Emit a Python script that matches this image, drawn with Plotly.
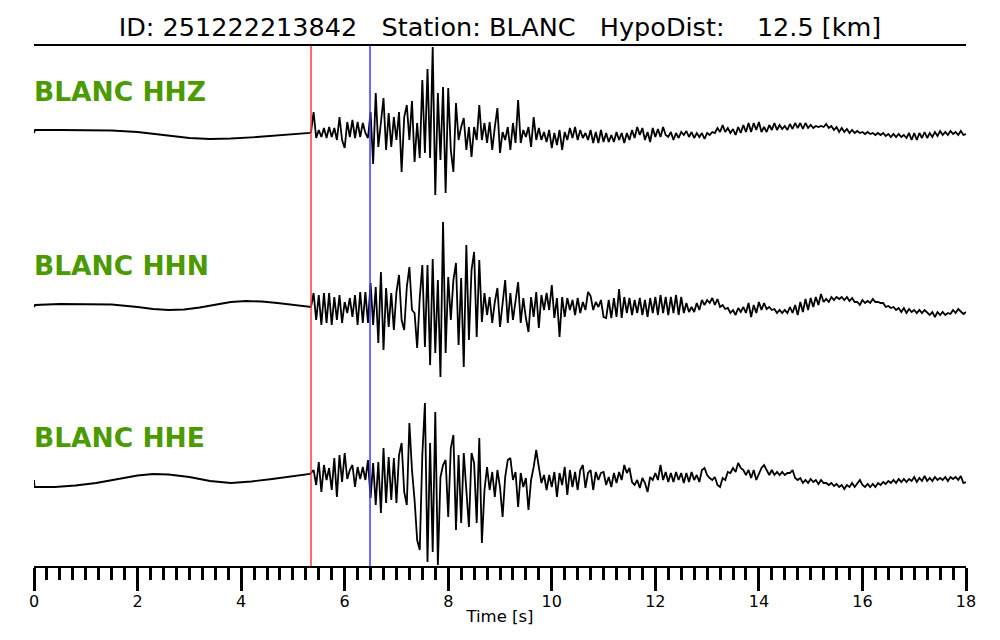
import plotly.graph_objects as go

# ---------------- data ----------------
TITLE_ID = "251222213842"
STATION = "BLANC"
HYPO_DIST_KM = 12.5
CHANNELS = ["HHZ", "HHN", "HHE"]

P_PICK = 5.35   # s (red line)
S_PICK = 6.49   # s (blue line)

X_TICKS = [0, 2, 4, 6, 8, 10, 12, 14, 16, 18]

# pre-event part (vertices), times in s, amplitude in counts (arbitrary units)
HHZ_PRE_T = [0.0, 0.02, 0.5, 1.0, 1.5, 2.0, 2.5, 3.0, 3.4, 3.8, 4.3, 4.8, 5.33]
HHZ_PRE_V = [-1, 2, 2, 2, 1.5, 0, -3, -6, -7, -6.5, -5, -3, -1]
HHN_PRE_T = [0.0, 0.02, 0.5, 1.0, 1.5, 2.0, 2.3, 2.6, 2.9, 3.2, 3.5, 3.8, 4.1, 4.4, 4.7, 5.0, 5.33]
HHN_PRE_V = [-1, 1, 2, 2, 1.5, -1, -3, -4, -3.5, -1.5, 1.5, 4, 5, 4.5, 3, 1, -1]
HHE_PRE_T = [0.0, 0.01, 0.4, 0.8, 1.2, 1.6, 2.0, 2.3, 2.6, 3.0, 3.4, 3.8, 4.2, 4.6, 5.0, 5.33]
HHE_PRE_V = [-2, -9, -9, -7.5, -5, -1.5, 2.5, 4, 3.5, 1, -3, -5, -3.5, -1, 2, 4]

# event part, sampled every EVENT_DT seconds starting at EVENT_T0
EVENT_T0 = 5.35
EVENT_DT = 0.05

HHZ_EV = [
    0, 20, -6, 2, -5, 4, -6, 5, -5, 4,
    -8, 15, -8, -16, 10, -5, 12, -6, 10, -5,
    9, -1, -6, 20, -32, 39, -15, 9, 34, -18,
    19, -15, 15, -8, 20, -40, 15, 27, -8, 31,
    -30, 9, -26, 52, -21, 63, -26, 85, -63, 39,
    -28, 45, -61, 44, -18, -40, 29, -8, 5, 14,
    -18, 5, -25, 5, -8, 27, -8, 9, -11, 10,
    -18, 5, 24, -21, 0, -8, 5, -18, 9, -11,
    32, -11, 2, -5, 5, -15, 15, -8, 4, -8,
    0, -10, 2, -16, -1, -13, 2, -18, 0, -8,
    4, -6, 5, -8, 2, -6, -1, -8, 2, -11,
    0, -11, 2, -10, -1, -10, -3, -10, 0, -8,
    -1, -11, -1, -8, 2, -6, 5, -3, 4, -8,
    0, -10, 4, -5, 3, -5, 5, -3, -5, 0,
    -8, -1, -6, 0, -3, 1, -5, 0, -6, -1,
    -5, -1, -7, -1, -3, 0, -1, 4, 0, 7,
    0, 4, -1, 3, -3, 5, -1, 7, 0, 9,
    0, 9, 2, 10, 0, 5, 0, 7, 2, 9,
    2, 7, 3, 6, 2, 8, 3, 9, 4, 9,
    3, 9, 4, 7, 4, 6, 5, 6, 5, 8,
    4, 6, 2, 5, 0, 4, 0, 3, -1, 2,
    -1, 1, -1, 0, -2, 0, -2, -1, -3, -1,
    -3, -1, -4, -2, -5, -2, -5, -2, -5, -3,
    -6, -1, -8, -1, -8, -1, -6, 0, -6, -1,
    -5, 0, -4, 1, -3, 0, -3, 1, -2, 0,
    -3, 1, -3, -2,
]

HHN_EV = [
    -1, 13, -14, 11, -19, 13, -17, 13, -19, 9,
    -14, 11, -17, 4, -7, 8, -11, 11, -19, 14,
    -17, 14, -17, 23, -19, 19, -37, 34, -44, 18,
    -21, 13, -24, 14, 31, -14, -24, 19, 39, -4,
    -7, -42, 8, 41, -41, 41, -59, 47, -47, 26,
    -71, 84, -47, 29, -14, 26, 43, -39, 28, -61,
    61, -34, 36, 54, -31, 46, -16, 13, -9, 9,
    -17, 4, 18, -21, 6, 26, -17, 13, -14, 6,
    24, -17, 8, -12, -26, 9, -11, 14, -22, 11,
    -4, 13, -4, 21, -12, 8, -31, 9, -11, 8,
    -4, 6, -9, 8, -7, 4, -4, 14, 10, -4,
    4, -1, 6, -11, -12, 6, -12, 8, -11, 17,
    -12, 9, -7, 8, -9, 6, -7, 8, -9, 6,
    -11, 8, -7, 9, -9, 11, -7, 9, -9, 9,
    -7, 11, -9, 9, -7, 3, -6, -1, -6, 3,
    -4, 6, 1, 6, 3, 8, 1, 7, -1, 1,
    -3, -2, -7, -4, -9, -2, -6, -1, -7, 3,
    -11, 1, -7, 4, -4, 3, -3, -1, -4, -3,
    -7, -4, -7, -4, -7, -1, -7, 1, -9, 4,
    -6, 7, -4, 8, -1, 9, 1, 12, 4, 7,
    4, 9, 6, 9, 7, 9, 6, 9, 5, 8,
    4, 4, 1, 6, 3, 5, 3, 7, 4, 4,
    3, 3, -1, 0, -2, -1, -4, -2, -6, -2,
    -7, -3, -6, -4, -7, -4, -7, -4, -7, -9,
    -6, -11, -6, -9, -6, -9, -7, -8, -4, -7,
    -3, -6, -8, -6,
]

HHE_EV = [
    5, 8, -7, 16, -14, 13, -2, 10, -12, 20,
    -19, 23, -4, 25, -1, 8, 13, -9, 11, -1,
    11, -2, 18, -20, 15, -27, 16, -35, 30, -25,
    21, -22, 20, -25, 23, 35, -14, -27, 55, 8,
    -22, -62, -72, 23, 75, -84, 35, -74, 66, -87,
    1, 13, 18, -39, 30, 43, -52, 23, -45, 25,
    -12, -49, 25, 15, -45, 40, -65, -12, 11, -12,
    6, -19, 8, -9, -39, 1, 18, 20, -2, 6,
    -29, 5, -9, 0, -32, -2, 11, 28, 11, -5,
    3, -12, 3, -9, 6, -19, 5, -7, 11, -17,
    8, -9, 6, -12, 8, 13, -10, 5, 8, -12,
    6, -2, 5, 6, -7, 1, -9, 5, -5, 6,
    -2, 13, 5, 10, -4, -7, -2, -10, 0, -5,
    -14, 1, -2, 5, -2, 13, -2, 6, -4, 5,
    -4, 6, -2, 5, -5, 5, -4, 6, -2, 3,
    -4, 8, 10, 3, 0, -2, 1, -7, -9, 0,
    -2, 6, 5, 10, 6, 15, 10, 8, 3, 8,
    0, 8, -2, 5, 10, 13, 8, 3, 8, 3,
    6, 3, 6, 3, 5, 5, 8, 0, -2, 0,
    -5, -2, -5, -1, -4, -2, -6, -2, -5, -5,
    -7, -5, -8, -6, -9, -7, -11, -7, -9, -5,
    -9, -5, -2, -7, -9, -6, -9, -6, -9, -5,
    -7, -4, -6, -3, -5, -2, -5, -1, -4, -1,
    -4, -1, -3, 1, -4, 0, -3, 2, -3, 0,
    -3, 1, -2, 0, -2, 1, -3, 1, -1, 1,
    -2, 2, -5, -4,
]

# ---------------- layout constants ----------------
W, H = 1000, 640
M_L, M_R, M_T, M_B = 34, 34, 46, 74
PLOT_H = H - M_T - M_B  # 520 -> 1 y unit == 1 px
TRACE_OFFSETS = {"HHZ": 434, "HHN": 260, "HHE": 88}
LABEL_RISE = 41
GREEN = "#4b9a00"
FONT = "DejaVu Sans"

pre = {"HHZ": (HHZ_PRE_T, HHZ_PRE_V), "HHN": (HHN_PRE_T, HHN_PRE_V), "HHE": (HHE_PRE_T, HHE_PRE_V)}
ev = {"HHZ": HHZ_EV, "HHN": HHN_EV, "HHE": HHE_EV}

fig = go.Figure()
for ch in CHANNELS:
    pt, pv = pre[ch]
    et = [EVENT_T0 + EVENT_DT * i for i in range(len(ev[ch]))]
    t = list(pt) + et
    v = list(pv) + list(ev[ch])
    off = TRACE_OFFSETS[ch]
    fig.add_trace(go.Scatter(
        x=t, y=[off + a for a in v], mode="lines",
        line=dict(color="black", width=1.8), hoverinfo="skip", showlegend=False,
    ))
    fig.add_annotation(
        x=0, y=off + LABEL_RISE, xref="x", yref="y", xanchor="left", yanchor="middle",
        xshift=-2, text=f"{STATION} {ch}", showarrow=False,
        font=dict(family=FONT, size=26.5, color=GREEN, weight="bold"),
    )

fig.add_vline(x=P_PICK, line=dict(color="#ff3b3b", width=1.5))
fig.add_vline(x=S_PICK, line=dict(color="#3b3bff", width=1.5))

nb = "\u00a0"
title = f"ID: {TITLE_ID}{nb*3}Station: {STATION}{nb*3}HypoDist:{nb*4}{HYPO_DIST_KM} [km]"

fig.update_layout(
    width=W, height=H,
    margin=dict(l=M_L, r=M_R, t=M_T, b=M_B, pad=0),
    paper_bgcolor="white", plot_bgcolor="white",
    title=dict(text=title, x=0.5, xanchor="center", xref="paper",
               y=1 - 27 / H, yanchor="middle",
               font=dict(family=FONT, size=25.5, color="black")),
    showlegend=False,
)
fig.update_xaxes(
    range=[0, 18], showline=True, linecolor="black", linewidth=2, mirror=True,
    ticks="outside", ticklen=23, tickwidth=3, tickcolor="black",
    tickvals=X_TICKS, ticktext=[str(v) for v in X_TICKS],
    tickfont=dict(family=FONT, size=16, color="black"),
    ticklabelstandoff=-3,
    minor=dict(dtick=0.25, tick0=0, ticks="outside", ticklen=12, tickwidth=3,
               tickcolor="black", showgrid=False),
    showgrid=False, zeroline=False, automargin=False,
    title=dict(text="Time [s]", font=dict(family=FONT, size=16.5, color="black"), standoff=0),
)
fig.update_yaxes(range=[0, PLOT_H], visible=False, showgrid=False, zeroline=False)

fig.write_html("out.html", config={"displayModeBar": False},
               post_script="document.body.style.margin='0';")
